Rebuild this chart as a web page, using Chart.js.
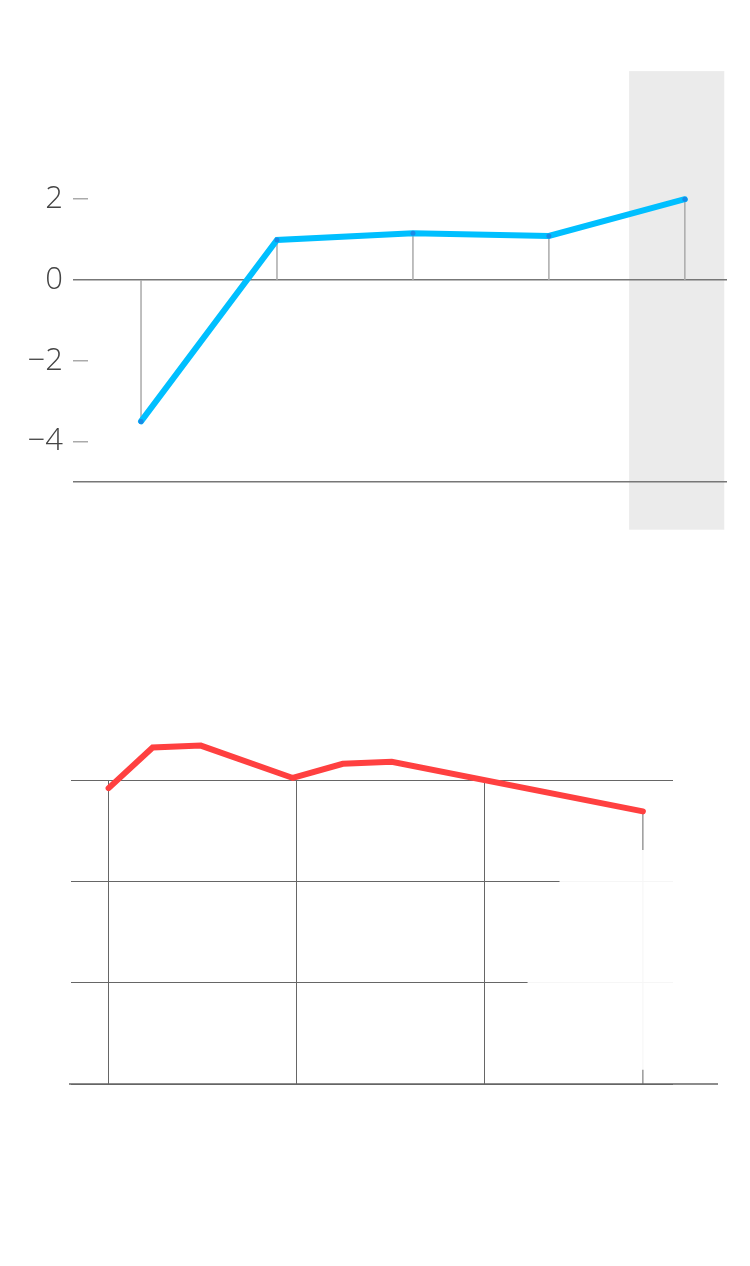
<!DOCTYPE html>
<html>
<head>
<meta charset="utf-8">
<script src="https://cdn.jsdelivr.net/npm/chart.js@4"></script>
<style>
  body { margin: 0; background: #fff; width: 750px; height: 1266px; position: relative; overflow: hidden; }
  canvas { position: absolute; left: 0; }
  #topChart { top: 0; }
  #bottomChart { top: 600px; }
</style>
</head>
<body>
<canvas id="topChart" width="750" height="560"></canvas>
<canvas id="bottomChart" width="750" height="666"></canvas>
<script>
// top chart data
const topX = [0, 1, 2, 3, 4];
const topY = [-3.5, 0.99, 1.16, 1.09, 2.0];
const topTicks = [-5, -4, -2, 0, 2]; // -5 = baseline, no label
const bandX = [3.59, 4.29];
const bandY = [5.17, -6.18];

// bottom chart data
const bottomX = [0, 0.234, 0.49, 0.979, 1.245, 1.505, 2.84];
const bottomY = [2.92, 3.32, 3.34, 3.02, 3.16, 3.18, 2.69];
const bottomXTicks = [0, 1, 2];
const bottomYTicks = [0, 1, 2, 3];
const fadeBox = [[2.45, 2.31], [3.1, 2.31], [3.1, 0.14], [2.08, 0.14]];

const minus = (v) => (v < 0 ? "\u2212" + Math.abs(v) : String(v));

// gray band + drop lines for the top chart
const topDecor = {
  id: "topDecor",
  beforeDraw(chart) {
    const { ctx, scales } = chart;
    const x0 = scales.x.getPixelForValue(bandX[0]);
    const x1 = scales.x.getPixelForValue(bandX[1]);
    const y0 = scales.y.getPixelForValue(bandY[0]);
    const y1 = scales.y.getPixelForValue(bandY[1]);
    ctx.save();
    ctx.fillStyle = "#ebebeb";
    ctx.fillRect(x0, y0, x1 - x0, y1 - y0);
    ctx.restore();
  },
  beforeDatasetsDraw(chart) {
    const { ctx, scales } = chart;
    const zero = scales.y.getPixelForValue(0);
    ctx.save();
    ctx.strokeStyle = "#aaa";
    ctx.lineWidth = 1.5;
    chart.getDatasetMeta(0).data.forEach((pt) => {
      ctx.beginPath();
      ctx.moveTo(pt.x, pt.y);
      ctx.lineTo(pt.x, zero);
      ctx.stroke();
    });
    ctx.restore();
  },
};

new Chart(document.getElementById("topChart"), {
  type: "line",
  data: {
    datasets: [
      {
        data: topX.map((x, i) => ({ x: x, y: topY[i] })),
        borderColor: "#00bfff",
        borderWidth: 6,
        borderCapStyle: "round",
        pointRadius: 2.5,
        pointBackgroundColor: "#1a8ae6",
        pointBorderWidth: 0,
        tension: 0,
      },
    ],
  },
  plugins: [topDecor],
  options: {
    responsive: false,
    animation: false,
    layout: { padding: { top: 78, bottom: 78, left: 0, right: 23 } },
    plugins: { legend: { display: false }, tooltip: { enabled: false } },
    scales: {
      x: { type: "linear", display: false, min: -0.39, max: 4.31 },
      y: {
        min: -5,
        max: 5,
        afterBuildTicks: (s) => {
          s.ticks = topTicks.map((v) => ({ value: v }));
        },
        afterFit: (s) => {
          s.width = 88;
        },
        border: { display: false },
        grid: {
          lineWidth: 1.5,
          tickLength: 15,
          color: (c) => (c.tick && (c.tick.value === 0 || c.tick.value === -5) ? "#777" : "rgba(0,0,0,0)"),
          tickColor: (c) => (c.tick && (c.tick.value === 0 || c.tick.value === -5) ? "#777" : "#aaa"),
        },
        ticks: {
          padding: 10,
          color: "#444",
          font: { family: "'Open Sans'", size: 31, weight: 300 },
          callback: (v) => (v === -5 ? "" : minus(v)),
        },
      },
    },
  },
});

// baseline, last drop line and white fade for the bottom chart
const bottomDecor = {
  id: "bottomDecor",
  beforeDatasetsDraw(chart) {
    const { ctx, scales, chartArea } = chart;
    const zero = scales.y.getPixelForValue(0);
    const pts = chart.getDatasetMeta(0).data;
    const last = pts[pts.length - 1];
    ctx.save();
    ctx.strokeStyle = "#666";
    ctx.lineWidth = 1;
    ctx.beginPath();
    ctx.moveTo(last.x, last.y);
    ctx.lineTo(last.x, zero);
    ctx.stroke();
    ctx.lineWidth = 1.5;
    ctx.beginPath();
    ctx.moveTo(chartArea.left - 2, zero);
    ctx.lineTo(chartArea.right + 45, zero);
    ctx.stroke();
    ctx.restore();
  },
  afterDraw(chart) {
    const { ctx, scales } = chart;
    ctx.save();
    ctx.fillStyle = "rgba(255,255,255,0.94)";
    ctx.beginPath();
    fadeBox.forEach(([x, y], i) => {
      const px = scales.x.getPixelForValue(x);
      const py = scales.y.getPixelForValue(y);
      if (i === 0) ctx.moveTo(px, py);
      else ctx.lineTo(px, py);
    });
    ctx.closePath();
    ctx.fill();
    ctx.restore();
  },
};

new Chart(document.getElementById("bottomChart"), {
  type: "line",
  data: {
    datasets: [
      {
        data: bottomX.map((x, i) => ({ x: x, y: bottomY[i] })),
        borderColor: "#ff4040",
        borderWidth: 6,
        borderCapStyle: "round",
        pointRadius: 0,
        tension: 0,
        clip: false,
      },
    ],
  },
  plugins: [bottomDecor],
  options: {
    responsive: false,
    animation: false,
    layout: { padding: { top: 180, bottom: 182, left: 71, right: 77 } },
    plugins: { legend: { display: false }, tooltip: { enabled: false } },
    scales: {
      x: {
        type: "linear",
        min: -0.2,
        max: 3.0,
        afterBuildTicks: (s) => {
          s.ticks = bottomXTicks.map((v) => ({ value: v }));
        },
        border: { display: false },
        grid: { color: "#666", lineWidth: 1, drawTicks: false },
        ticks: { display: false },
      },
      y: {
        min: 0,
        max: 3,
        afterBuildTicks: (s) => {
          s.ticks = bottomYTicks.map((v) => ({ value: v }));
        },
        border: { display: false },
        grid: { color: "#666", lineWidth: 1, drawTicks: false },
        ticks: { display: false },
      },
    },
  },
});
</script>
</body>
</html>
